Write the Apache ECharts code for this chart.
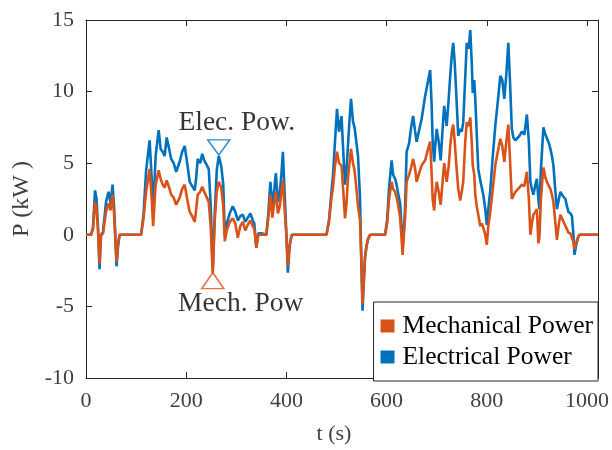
<!DOCTYPE html>
<html>
<head>
<meta charset="utf-8">
<script src="https://cdn.jsdelivr.net/npm/echarts@6/dist/echarts.min.js"></script>
<style>
  html, body { margin: 0; padding: 0; background: #fff; }
  #chart { width: 612px; height: 450px; }
</style>
</head>
<body>
<div id="chart"></div>
<script>
// time (s) and power (kW)
const timeS = [
  0, 10, 14, 18, 21, 24, 27, 30, 34, 40, 45, 49, 53, 56, 61, 64, 67,
  110, 115, 120, 127, 131, 134, 139, 145, 149, 153, 157, 161, 166, 170, 175, 180, 187, 192, 197,
  202, 207, 212, 217, 220, 223, 228, 232, 236, 239, 245, 249, 253, 257, 261, 265, 270, 274, 277,
  281, 287, 293, 298, 303, 308, 313, 318, 323, 328, 333, 336, 340, 344, 350, 360, 364, 368, 372,
  376, 379, 383, 387, 390, 393, 397, 400, 403, 406, 408, 411,
  480, 485, 490, 493, 497, 501, 505, 510, 514, 517, 520, 523, 526, 529, 533, 536, 539, 543, 547,
  549, 552, 555, 557, 560, 563, 567,
  597, 601, 605, 610, 613, 617, 620, 623, 627, 630, 632, 635, 637, 640, 645, 649, 653, 657, 660,
  665, 670, 677, 682, 687, 690, 692, 695, 697, 700, 704, 708, 712, 715, 720, 724, 727, 730, 733,
  736, 739, 743, 747, 750, 753, 757, 760, 764, 767, 770, 772, 775, 777, 780, 783, 787, 790, 793,
  797, 800, 803, 807, 812, 817, 822, 827, 831, 835, 839, 843, 846, 850, 853, 857, 860, 865, 870,
  875, 880, 884, 887, 890, 893, 897, 900, 903, 905, 908, 913, 917, 920, 924, 927, 930, 933, 937,
  940, 944, 947, 952, 957, 960, 963, 967, 970, 973, 975, 978, 982, 985, 1022
];

const elecKW = [
  0, 0, 0.5, 3.1, 2.5, 0.5, -2.4, 0, 0.2, 2.3, 3.0, 2.2, 3.5, 2.0, -2.2, -0.8, 0,
  0, 1.5, 4.5, 6.6, 4.0, 1.5, 5.5, 7.3, 6.0, 5.8, 5.5, 6.8, 6.0, 5.3, 5.0, 4.4, 5.1, 5.8, 6.2,
  5.0, 3.7, 3.4, 3.1, 4.0, 5.3, 5.0, 5.65, 5.2, 5.3, 4.6, 2.0, -2.5, 1.5, 4.5, 5.5, 4.8, 3.5, 0,
  0.8, 1.5, 2.0, 1.6, 1.0, 1.3, 1.4, 0.9, 1.2, 1.5, 1.0, 0.8, -0.9, 0.1, 0.1, 0, 1.5, 3.7, 2.0,
  3.2, 4.3, 2.3, 3.0, 4.2, 5.8, 2.5, 0, -2.65, -1.0, -0.4, 0,
  0, 1.0, 3.0, 4.15, 6.5, 8.8, 7.2, 8.3, 5.5, 3.5, 4.5, 6.3, 8.0, 9.5, 7.9, 7.5, 6.7, 5.5, 2.5,
  -1.0, -5.3, -3.0, -1.6, -0.8, -0.3, 0,
  0, 1.0, 3.3, 5.2, 4.2, 3.9, 3.5, 2.9, 2.2, 0.5, -0.9, 0.5, 2.0, 5.8, 6.4, 7.5, 8.3, 7.2, 6.5,
  7.3, 8.1, 9.7, 10.6, 11.5, 9.0, 6.5, 5.1, 6.2, 7.4, 6.5, 5.2, 7.5, 9.0, 7.6, 9.5, 11.1, 12.5, 13.4,
  12.0, 9.9, 6.9, 7.4, 7.2, 7.85, 11.0, 13.4, 13.0, 14.3, 12.0, 9.9, 10.8, 9.5, 7.0, 4.6, 3.8, 3.3, 2.8,
  1.8, 0.7, 1.8, 3.1, 5.5, 7.6, 9.3, 11.1, 10.8, 9.5, 11.2, 13.4, 11.0, 7.4, 6.8, 6.6, 6.5, 6.9, 7.2,
  7.0, 8.4, 6.5, 3.7, 3.2, 2.8, 3.5, 3.9, 2.5, 1.8, 4.5, 7.5, 7.0, 6.9, 6.4, 6.0, 5.5, 4.85, 3.0,
  1.8, 2.5, 3.0, 2.7, 2.5, 2.0, 1.6, 1.5, 1.3, 0.0, -1.4, -0.8, -0.2, 0, 0
];

const mechKW = [
  0, 0, 0.4, 2.3, 1.8, 0.3, -2.0, 0, 0.1, 1.6, 2.2, 1.7, 2.8, 1.5, -1.9, -0.6, 0,
  0, 1.2, 3.0, 4.6, 2.6, 0.6, 3.5, 4.5, 3.9, 3.5, 3.3, 3.8, 3.3, 2.8, 2.6, 2.1, 2.6, 3.2, 3.5,
  2.5, 1.6, 1.3, 0.9, 1.8, 2.8, 3.0, 3.35, 3.0, 3.1, 2.3, 0.5, -2.7, 1.0, 3.0, 3.7, 3.3, 2.0, -0.45,
  0.3, 0.9, 1.15, 0.8, -0.2, 0.6, 0.9, 0.3, 0.7, 1.0, 0.6, 0.4, -0.9, 0.0, 0.0, 0, 1.2, 2.8, 1.2,
  2.3, 3.0, 1.5, 2.0, 3.0, 3.8, 1.5, 0, -2.2, -0.8, -0.7, 0,
  0, 0.9, 2.6, 3.3, 4.8, 5.8, 5.0, 4.85, 2.8, 1.15, 2.2, 4.0, 5.0, 6.0, 5.0, 4.5, 3.5, 2.0, 1.0,
  -1.0, -4.85, -2.8, -1.5, -0.7, -0.3, 0,
  0, 0.8, 2.5, 3.7, 3.2, 3.0, 2.6, 2.1, 1.2, -0.3, -1.4, 0.3, 1.2, 3.7, 4.2, 4.7, 5.3, 4.6, 3.7,
  4.3, 4.85, 5.2, 5.9, 6.5, 4.2, 2.5, 1.7, 2.8, 3.7, 3.0, 2.1, 3.8, 5.0, 3.7, 4.8, 6.2, 7.2, 7.7,
  6.5, 5.0, 3.2, 2.4, 3.0, 3.7, 6.5, 7.85, 7.6, 8.2, 6.5, 4.85, 4.2, 2.8, 2.0, 1.4, 0.6, 0.8, 0.5,
  0.0, -0.7, 0.6, 1.6, 3.2, 4.85, 5.8, 6.7, 6.2, 5.1, 6.5, 7.7, 5.5, 2.5, 2.4, 3.0, 3.1, 3.3, 3.5,
  3.4, 4.4, 2.5, 0.0, 0.8, 1.4, 1.6, 1.8, -0.6, -0.2, 2.5, 4.7, 4.0, 3.7, 3.4, 3.2, 2.8, 2.3, 0.8,
  -0.35, 0.8, 1.4, 1.0, 0.6, 0.4, 0.15, 0.1, 0.0, -0.5, -1.0, -0.6, -0.2, 0, 0
];

// annotation markers [t, P]
const elecMarker = [265, 6.1];
const mechMarker = [253, -3.2];

const xTicks = [0, 200, 400, 600, 800, 1000];
const yTicks = [-10, -5, 0, 5, 10, 15];

const blue = '#0072BD';
const orange = '#D95319';
const serif = 'Liberation Serif';

const elecData = timeS.map((t, i) => [t, elecKW[i]]);
const mechData = timeS.map((t, i) => [t, mechKW[i]]);

const chart = echarts.init(document.getElementById('chart'));

const axisCommon = {
  type: 'value',
  splitLine: { show: false },
  axisLine: { show: true, onZero: false, lineStyle: { color: '#262626', width: 1 } },
  axisTick: { show: true, inside: true, length: 6, lineStyle: { color: '#262626' } }
};

chart.setOption({
  animation: false,
  grid: { left: 86, right: 14, top: 20, bottom: 69 },
  legend: {
    data: ['Mechanical Power', 'Electrical Power'],
    orient: 'vertical',
    right: 14,
    bottom: 69,
    icon: 'rect',
    itemWidth: 14,
    itemHeight: 13,
    itemGap: 5,
    padding: [11, 5, 11, 7],
    borderColor: '#262626',
    borderWidth: 1,
    backgroundColor: '#fff',
    textStyle: { fontFamily: serif, fontSize: 25.5, color: '#000', padding: [0, 0, 0, 3] }
  },
  xAxis: [
    Object.assign({}, axisCommon, {
      position: 'bottom',
      min: 0, max: 1022, interval: 200,
      name: 't (s)',
      nameLocation: 'middle',
      nameGap: 45,
      nameTextStyle: { fontFamily: serif, fontSize: 22, color: '#404040', padding: [0, 16, 0, 0] },
      axisLabel: {
        fontFamily: serif, fontSize: 22, color: '#404040', margin: 12,
        formatter: v => (xTicks.indexOf(v) >= 0 ? String(v) : '')
      }
    }),
    Object.assign({}, axisCommon, {
      position: 'top',
      min: 0, max: 1022, interval: 200,
      axisLabel: { show: false }
    })
  ],
  yAxis: [
    Object.assign({}, axisCommon, {
      position: 'left',
      min: -10, max: 15, interval: 5,
      name: 'P (kW )',
      nameLocation: 'middle',
      nameGap: 48,
      nameTextStyle: { fontFamily: serif, fontSize: 24, color: '#404040' },
      axisLabel: {
        fontFamily: serif, fontSize: 22, color: '#404040', margin: 12,
        formatter: v => (yTicks.indexOf(v) >= 0 ? String(v) : '')
      }
    }),
    Object.assign({}, axisCommon, {
      position: 'right',
      min: -10, max: 15, interval: 5,
      axisLabel: { show: false }
    })
  ],
  series: [
    {
      name: 'Electrical Power',
      type: 'line',
      data: elecData,
      showSymbol: false,
      color: blue,
      lineStyle: { color: blue, width: 2.6 },
      z: 2
    },
    {
      name: 'Mechanical Power',
      type: 'line',
      data: mechData,
      showSymbol: false,
      color: orange,
      lineStyle: { color: orange, width: 2.6 },
      z: 3
    },
    {
      name: 'elecMark',
      type: 'scatter',
      data: [elecMarker],
      symbol: 'triangle',
      symbolRotate: 180,
      symbolSize: [22, 15],
      itemStyle: { color: 'rgba(255,255,255,0)', borderColor: blue, borderWidth: 1.5 },
      label: {
        show: true, position: 'top', distance: 3, offset: [18, 0],
        formatter: 'Elec. Pow.', fontFamily: serif, fontSize: 27.5, color: '#000'
      },
      z: 5
    },
    {
      name: 'mechMark',
      type: 'scatter',
      data: [mechMarker],
      symbol: 'triangle',
      symbolSize: [22, 16],
      itemStyle: { color: 'rgba(255,255,255,0)', borderColor: orange, borderWidth: 1.5 },
      label: {
        show: true, position: 'bottom', distance: 1, offset: [28, 0],
        formatter: 'Mech. Pow', fontFamily: serif, fontSize: 27.5, color: '#000'
      },
      z: 5
    }
  ]
});
</script>
</body>
</html>
